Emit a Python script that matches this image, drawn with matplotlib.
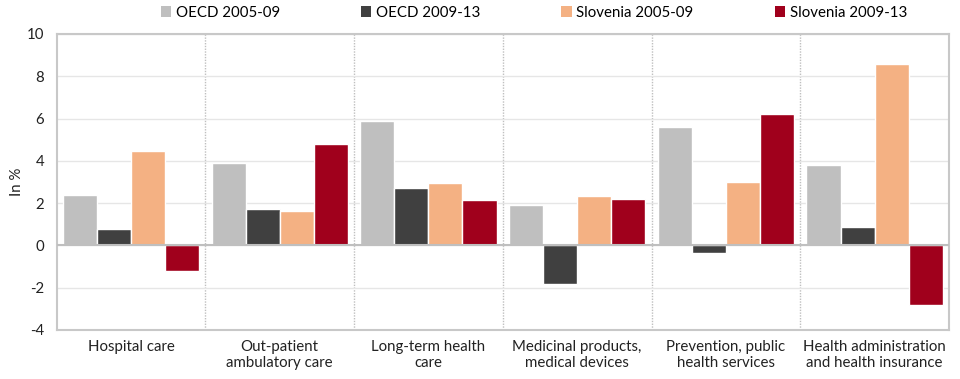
import numpy as np
import matplotlib
matplotlib.use("Agg")
import matplotlib.pyplot as plt
from matplotlib.patches import Patch

categories = [
    "Hospital care",
    "Out-patient\nambulatory care",
    "Long-term health\ncare",
    "Medicinal products,\nmedical devices",
    "Prevention, public\nhealth services",
    "Health administration\nand health insurance",
]
series_names = ["OECD 2005-09", "OECD 2009-13", "Slovenia 2005-09", "Slovenia 2009-13"]
oecd_0509 = [2.40, 3.89, 5.88, 1.93, 5.59, 3.79]
oecd_0913 = [0.76, 1.74, 2.73, -1.82, -0.35, 0.87]
slo_0509 = [4.45, 1.63, 2.95, 2.34, 2.99, 8.56]
slo_0913 = [-1.23, 4.79, 2.13, 2.21, 6.21, -2.84]
colors = ["#BFBFBF", "#404040", "#F4B183", "#A0001C"]

plt.rcParams["font.family"] = ["Lato", "DejaVu Sans"]
plt.rcParams["axes.unicode_minus"] = False

fig = plt.figure(figsize=(9.6, 3.79), dpi=100)
ax = fig.add_axes([0.059, 0.1293, 0.9295, 0.781])

x = np.arange(len(categories))
w = 0.229
data = [oecd_0509, oecd_0913, slo_0509, slo_0913]
for i, (vals, c) in enumerate(zip(data, colors)):
    ax.bar(x + (i - 1.5) * w, vals, width=w, color=c, edgecolor="white",
           linewidth=1.0, zorder=3)

ax.set_xlim(-0.5, len(categories) - 0.5)
ax.set_ylim(-4, 10)
ax.set_yticks(range(-4, 11, 2))
ax.yaxis.grid(True, color="#E6E6E6", linewidth=1.0, zorder=0)
ax.axhline(0, color="#BFBFBF", linewidth=1.5, zorder=4)
for b in np.arange(0.5, len(categories) - 0.5):
    ax.axvline(b, color="#BFBFBF", linestyle=(0, (1, 1)), linewidth=1.0, zorder=1)

for s in ax.spines.values():
    s.set_color("#C8C8C8")
    s.set_linewidth(1.5)

ax.set_xticks(x)
ax.set_xticklabels(categories, fontsize=10.8, color="#222222", linespacing=1.25)
ax.tick_params(axis="x", length=0, pad=7)
ax.tick_params(axis="y", length=0, labelsize=10.8, labelcolor="#222222", pad=9)
ax.set_ylabel("In %", fontsize=10.8, color="#222222", labelpad=2)

handles = [Patch(facecolor=c, edgecolor="none") for c in colors]
fig.legend(handles, series_names, loc="upper center", bbox_to_anchor=(0.556, 1.02),
           ncol=4, frameon=False, fontsize=10.8, handlelength=0.7, handleheight=0.7,
           handletextpad=0.3, columnspacing=5.4)

fig.savefig("out.png", dpi=100)
